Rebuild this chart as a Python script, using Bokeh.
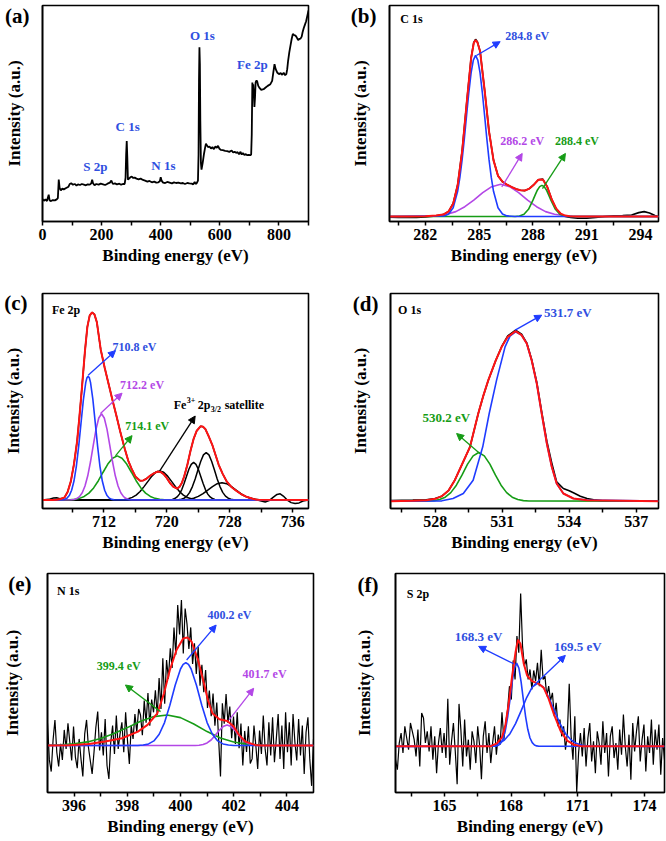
import numpy as np
from bokeh.plotting import figure
from bokeh.layouts import column, row
from bokeh.models import Range1d, FixedTicker, Label, Arrow, NormalHead
from bokeh.embed import file_html
from bokeh.resources import INLINE

# ---------------- (a) survey ----------------
a_energy = [0, 5, 10, 15, 21, 24, 29, 35, 42, 48, 52, 55, 58, 62, 67, 72, 80, 88, 92, 97, 103, 110, 115, 120,
            127, 133, 140, 147, 153, 160, 165, 168, 171, 176, 182, 190, 197, 205, 212, 220, 228, 233, 238, 245,
            252, 260, 266, 272, 278, 281, 283, 285, 287, 289, 293, 297, 302, 307, 312, 318, 325, 332, 340, 347,
            355, 362, 370, 378, 385, 392, 397, 400, 403, 408, 415, 422, 430, 438, 445, 452, 460, 468, 475, 482,
            490, 497, 505, 510, 515, 518, 522, 526, 528, 529.5, 531, 532.5, 534, 536, 538, 542, 546, 550, 553,
            556, 560, 565, 570, 575, 580, 585, 590, 594, 598, 603, 610, 618, 625, 632, 640, 645, 650, 655, 660,
            665, 670, 674, 678, 683, 688, 693, 698, 703, 706, 708, 710, 712, 713, 715, 717, 719, 721, 723, 726,
            730, 735, 740, 748, 755, 762, 771, 777, 781, 785, 789, 794, 800, 806, 811, 816, 821, 825, 828, 831,
            835, 839, 843, 847, 851, 856, 860, 865, 869, 873, 877, 880, 884, 888, 892, 895, 898, 900]
a_counts = [67, 62, 66, 61, 80, 63, 61, 64, 63, 66, 70, 125, 100, 93, 98, 96, 100, 104, 112, 114, 110, 112, 107, 111,
            109, 112, 110, 108, 111, 110, 114, 125, 114, 108, 112, 110, 113, 111, 109, 113, 116, 122, 112, 114,
            111, 113, 110, 112, 112, 130, 200, 240, 190, 125, 128, 132, 134, 130, 131, 128, 126, 128, 124, 122,
            119, 121, 117, 119, 116, 117, 120, 132, 122, 116, 115, 118, 116, 114, 117, 115, 116, 114, 115, 112,
            115, 114, 113, 111, 118, 112, 115, 122, 200, 420, 520, 470, 300, 175, 155, 175, 200, 220, 232,
            228, 222, 224, 218, 222, 216, 224, 220, 226, 218, 214, 213, 211, 210, 208, 212, 206, 208, 205, 207,
            201, 208, 200, 204, 199, 201, 198, 199, 198, 200, 260, 415, 395, 410, 380, 342, 370, 415, 420, 420,
            405, 398, 393, 395, 400, 405, 410, 420, 445, 470, 455, 445, 440, 443, 438, 444, 437, 440, 455, 480,
            505, 525, 545, 560, 557, 555, 550, 542, 545, 546, 552, 565, 578, 588, 598, 610, 622, 630]

# ---------------- (b) C 1s ----------------
b_raw_x = [280, 280.5, 281, 281.5, 282, 282.6, 283.0, 283.3, 283.55, 283.8, 284.05, 284.3, 284.55, 284.7, 284.8,
           284.9, 285.05, 285.3, 285.55, 285.8, 286.05, 286.3, 286.55, 286.8, 287.05, 287.3, 287.55, 287.8, 288.05,
           288.3, 288.55, 288.8, 289.05, 289.3, 289.55, 289.8, 290.1, 290.5, 291, 291.5, 292, 292.5, 293, 293.5,
           293.9, 294.2, 294.5, 294.8, 295]
b_raw_y = [-2, -3, -2, -3, -1, 2, 6, 16, 40, 96, 200, 344, 482, 530, 539, 532, 503, 386, 259, 172, 124, 106, 97,
           90, 84, 80, 79, 85, 97, 112, 114, 90, 52, 23, 7, 0, -3, -5, -5, -3, 0, 2, 3, 5, 12, 15, 11, 3, 0]
b_fit_x = [280, 281, 282, 282.6, 283.0, 283.3, 283.55, 283.8, 284.05, 284.3, 284.55, 284.7, 284.8, 284.9, 285.05,
           285.3, 285.55, 285.8, 286.05, 286.3, 286.55, 286.8, 287.05, 287.3, 287.55, 287.8, 288.05, 288.3, 288.55,
           288.8, 289.05, 289.3, 289.55, 289.8, 290.05, 290.5, 295]
b_fit_y = [0, 0, 1, 3, 6, 16, 39, 95, 198, 343, 481, 528, 537, 530, 503, 386, 259, 171, 124, 106, 97, 90, 84, 80,
           79, 85, 97, 112, 113, 90, 52, 24, 9, 3, 1, 0, 0]
b_blue_x = [280, 283.05, 283.3, 283.55, 283.8, 283.925, 284.05, 284.175, 284.3, 284.425, 284.55, 284.675, 284.8,
            284.925, 285.05, 285.175, 285.3, 285.425, 285.55, 285.675, 285.8, 286.05, 286.3, 286.55, 287, 295]
b_blue_y = [0, 2, 8, 27, 77, 119, 173, 238, 309, 378, 437, 476, 490, 476, 437, 378, 309, 238, 173, 119, 77, 27, 8,
            2, 0, 0]
b_purple_x = [280, 282.2, 282.7, 283.2, 283.7, 284.2, 284.7, 285.2, 285.7, 286.2, 286.7, 287.2, 287.7, 288.2,
              288.7, 289.2, 289.7, 290.2, 295]
b_purple_y = [0, 1, 3, 7, 15, 30, 50, 73, 91, 98, 91, 73, 50, 30, 15, 7, 3, 1, 0]
b_green_x = [280, 286.5, 287.0, 287.25, 287.5, 287.75, 288.0, 288.125, 288.25, 288.375, 288.5, 288.625, 288.75,
             288.875, 289.0, 289.25, 289.5, 289.75, 290.0, 290.5, 295]
b_green_y = [0, 0, 0.3, 1.7, 7, 22, 50, 66, 81, 91, 95, 91, 81, 66, 50, 22, 7, 1.7, 0.3, 0, 0]

# ---------------- (c) Fe 2p ----------------
c_fit_x = [704.2, 705.5, 706.0, 706.5, 707.0, 707.4, 707.8, 708.2, 708.6, 708.9, 709.2, 709.6, 709.9, 710.2, 710.5,
           710.8, 711.1, 711.6, 712.1, 712.6, 713.1, 713.6, 714.1, 714.65, 715.1, 715.5, 716.0, 716.6, 717.0, 717.4,
           717.8, 718.3, 718.8, 719.2, 719.6, 720.0, 720.4, 720.8, 721.3, 721.6, 721.9, 722.2, 722.6, 723.0, 723.4,
           723.8, 724.3, 724.6, 724.9, 725.3, 725.8, 726.2, 726.6, 727.1, 727.6, 728.2, 728.9, 729.5, 730.2, 731.0,
           731.5, 738.0]
c_fit_y = [0, 0, 1, 3, 8, 25, 57, 110, 180, 257, 340, 457, 530, 565, 574, 568, 545, 460, 405, 355, 305, 257, 207,
           157, 120, 97, 72, 59, 60, 65, 73, 81, 87, 86, 79, 67, 52, 41, 35, 40, 52, 72, 107, 150, 187, 212, 226,
           224, 217, 196, 167, 137, 107, 80, 57, 40, 27, 17, 9, 3, 1, 0]
c_raw_left_x = [704.2, 705.0, 705.6, 706.0, 706.4, 706.8]
c_raw_left_y = [0, 2, 6, 7, 4, 5]
c_raw_right_x = [731.0, 731.5, 732.0, 732.5, 733.0, 733.5, 734.0, 734.4, 734.8, 735.3, 735.8, 736.3, 736.8, 737.3, 738.0]
c_raw_right_y = [3, 0, -3, -6, -2, 8, 17, 19, 12, 0, -8, -11, -9, -3, 0]
c_blue_x = [704.2, 706.7, 707.0, 707.3, 707.6, 707.9, 708.2, 708.5, 708.8, 709.1, 709.4, 709.7, 709.85, 710.0,
            710.15, 710.3, 710.6, 710.9, 711.2, 711.5, 711.8, 712.1, 712.4, 712.7, 713.0, 713.3, 738.0]
c_blue_y = [0, 0.7, 2, 5.6, 13.6, 30, 58, 103, 165, 237, 308, 360, 374, 379, 374, 360, 308, 237, 165, 103, 58, 30,
            13.6, 5.6, 2, 0.7, 0]
c_purple_x = [704.2, 707.85, 708.2, 708.55, 708.9, 709.25, 709.6, 709.95, 710.3, 710.65, 711.0, 711.35, 711.7,
              712.05, 712.4, 712.75, 713.1, 713.45, 713.8, 714.15, 714.5, 714.85, 715.2, 715.55, 738.0]
c_purple_y = [0, 0.6, 1.7, 4.4, 10.3, 22, 43, 74, 117, 167, 216, 251, 264, 251, 216, 167, 117, 74, 43, 22, 10.3,
              4.4, 1.7, 0.6, 0]
c_green_x = [704.2, 707.7, 708.3, 708.9, 709.5, 710.1, 710.7, 711.3, 711.9, 712.5, 713.1, 713.7, 714.3, 714.9,
             715.5, 716.1, 716.7, 717.3, 717.9, 718.5, 719.1, 719.7, 738.0]
c_green_y = [0, 0.8, 2, 5, 11, 21, 37, 59, 85, 110, 128, 135, 128, 110, 85, 59, 37, 21, 11, 5, 2, 0.8, 0]
c_sat1_x = [704.2, 714.1, 714.6, 715.1, 715.6, 716.1, 716.6, 717.1, 717.6, 718.1, 718.6, 719.1, 719.6, 720.1,
            720.6, 721.1, 721.6, 722.1, 722.6, 723.1, 723.6, 724.1, 738.0]
c_sat1_y = [0, 0.7, 1.7, 3.9, 8, 15, 26, 41, 57, 73, 85, 89, 85, 73, 57, 41, 26, 15, 8, 3.9, 1.7, 0.7, 0]
c_sat2_x = [704.2, 720.4, 720.7, 721.0, 721.3, 721.6, 721.9, 722.2, 722.5, 722.8, 723.1, 723.4, 723.7, 724.0,
            724.3, 724.6, 724.9, 725.2, 725.5, 725.8, 726.1, 726.4, 738.0]
c_sat2_y = [0, 0.7, 1.9, 4.4, 9.5, 18, 32, 51, 73, 94, 109, 115, 109, 94, 73, 51, 32, 18, 9.5, 4.4, 1.9, 0.7, 0]
c_sat3_x = [704.2, 721.5, 721.85, 722.2, 722.55, 722.9, 723.25, 723.6, 723.95, 724.3, 724.65, 725.0, 725.35,
            725.7, 726.05, 726.4, 726.75, 727.1, 727.45, 727.8, 728.15, 728.5, 738.0]
c_sat3_y = [0, 0.9, 2.4, 5.6, 12, 23.5, 41, 64.5, 92, 118, 138, 145, 138, 118, 92, 64.5, 41, 23.5, 12, 5.6, 2.4,
            0.9, 0]
c_sat4_x = [704.2, 721.6, 722.2, 722.8, 723.4, 724.0, 724.6, 725.2, 725.8, 726.4, 727.0, 727.6, 728.2, 728.8,
            729.4, 730.0, 730.6, 731.2, 731.8, 732.4, 738.0]
c_sat4_y = [0, 0.3, 1, 2.5, 5.6, 11, 19.6, 30, 41, 50, 53, 50, 41, 30, 19.6, 11, 5.6, 2.5, 1, 0.3, 0]

# ---------------- (d) O 1s ----------------
d_raw_x = [526, 527, 527.6, 528.0, 528.3, 528.6, 528.88, 529.2, 529.56, 529.93, 530.15, 530.38, 530.7, 530.98,
           531.25, 531.6, 531.87, 532.1, 532.32, 532.55, 532.77, 533.0, 533.22, 533.44, 533.74, 534.0, 534.19,
           534.5, 534.8, 535.1, 535.5, 536.5, 538]
d_raw_y = [2, 3, 4, 8, 15, 32, 63, 110, 163, 263, 315, 363, 420, 464, 496, 513, 501, 475, 425, 356, 268, 180, 115,
           58, 38, 31, 25, 15, 8, 4, 1, 0, 0]
d_fit_x = [526, 527, 527.6, 528.0, 528.3, 528.6, 528.88, 529.2, 529.56, 529.93, 530.15, 530.38, 530.7, 530.98,
           531.25, 531.6, 531.87, 532.1, 532.32, 532.55, 532.77, 533.0, 533.22, 533.44, 533.74, 534.19, 534.79, 538]
d_fit_y = [0, 1, 3, 7, 15, 32, 63, 110, 163, 263, 315, 363, 420, 463, 493, 510, 498, 473, 423, 353, 263, 173, 103,
           53, 23, 8, 3, 0]
d_blue_x = [526, 528.3, 528.8, 529.26, 529.7, 530.13, 530.42, 530.75, 531.13, 531.35, 531.6, 531.87, 532.1,
            532.32, 532.55, 532.77, 533.0, 533.22, 533.44, 533.74, 534.19, 534.79, 538]
d_blue_y = [0, 1, 8, 23, 63, 163, 263, 363, 463, 495, 508, 498, 473, 423, 353, 263, 173, 103, 53, 23, 8, 3, 0]
d_green_x = [526, 527.7, 527.95, 528.2, 528.45, 528.7, 528.95, 529.2, 529.45, 529.7, 529.95, 530.2, 530.45,
             530.7, 530.95, 531.2, 531.45, 531.7, 531.95, 532.2, 538]
d_green_y = [0, 0.5, 1.7, 4.8, 11.9, 25.6, 48, 78, 111, 136, 146, 136, 111, 78, 48, 25.6, 11.9, 4.8, 1.7, 0.5, 0]

# ---------------- (e) N 1s ----------------
e_raw_y = [67, -43, -78, 17, 77, -20, -63, 5, -43, 47,
           -10, 67, 10, -45, 57, -35, -68, 20, -40, -93,
           35, 77, -5, -45, -85, -20, 55, 102, -15, 40,
           -30, 80, -60, -100, 10, 60, -25, 90, -10, 35,
           70, -20, 100, 15, -55, 60, 20, 95, 40, 110,
           92, 31, 135, 69, 158, 60, 138, 100, 166, 92,
           203, 110, 262, 126, 257, 201, 292, 233, 355, 273,
           422, 334, 437, 277, 412, 365, 290, 355, 245, 307,
           215, 297, 180, 243, 160, 227, 113, 165, 88, 156,
           60, 129, 20, -93, 127, 66, 155, 68, 117, 22,
           87, 5, 100, -8, 66, -60, 44, -19, 58, -54,
           -40, 60, 0, -70, 45, -25, 90, -10, -60, 70,
           -30, 85, -50, 20, 95, -40, 60, -70, 100, -20,
           70, -60, 95, 10, -45, 80, -30, 60, -85, 40,
           85, -40, -121, 20]
e_fit_x = [395, 395.8, 396.56, 397.17, 397.8, 398.4, 398.76, 399.13, 399.38, 399.6, 399.85, 400.1, 400.26, 400.42,
           400.66, 400.85, 401.03, 401.2, 401.46, 401.76, 402.0, 402.2, 402.44, 402.8, 403.05, 405]
e_fit_y = [0, 1, 5, 12, 22, 42, 62, 97, 157, 227, 287, 322, 325, 312, 257, 197, 137, 97, 79, 74, 57, 32, 12, 2, 0, 0]
e_blue_x = [395, 398.4, 398.6, 398.8, 399.0, 399.2, 399.4, 399.6, 399.8, 400.0, 400.1, 400.2, 400.3, 400.4, 400.6,
            400.8, 401.0, 401.2, 401.4, 401.6, 401.8, 402.0, 405]
e_blue_y = [0, 0.4, 1.5, 5, 14, 34, 69, 121, 181, 230, 244, 249, 244, 230, 181, 121, 69, 34, 14, 5, 1.5, 0.4, 0]
e_green_x = [395.0, 395.5, 396.0, 396.5, 397.0, 397.5, 398.0, 398.5, 399.0, 399.5, 400.0, 400.5, 401.0, 401.5,
             402.0, 402.5, 403.0, 403.5, 405]
e_green_y = [0.8, 2.2, 5.2, 11, 21, 36, 54, 73, 87, 92, 84, 65, 42, 23, 10.5, 4, 1.3, 0.3, 0]
e_purple_x = [395, 400.55, 400.7, 400.85, 401.0, 401.15, 401.3, 401.45, 401.6, 401.75, 401.9, 402.05, 402.2,
              402.35, 402.5, 402.65, 402.8, 402.95, 405]
e_purple_y = [0, 0.3, 1.1, 3.2, 8, 16.7, 30, 45, 57, 62, 57, 45, 30, 16.7, 8, 3.2, 1.1, 0.3, 0]

# ---------------- (f) S 2p ----------------
f_raw_y = [-40, -70, 10, 40, -20, 60, 25, -10, 70, 45,
           20, -30, 50, -60, 100, 85, 10, 45, -15, 60,
           -40, 30, -80, 10, 55, -20, 40, -35, 142, -55,
           15, 70, -15, -113, 127, 50, -60, 80, -30, 20,
           -70, 45, 15, -50, 60, 5, -98, 30, 75, -20,
           40, -50, 10, 60, -25, 35, 5, 102, 20, 70,
           110, 180, 140, 257, 200, 330, 280, 457, 300, 240,
           260, 200, 230, 170, 227, 195, 250, 180, 289, 200,
           210, 150, 180, 137, 160, 90, 130, 60, 80, 30,
           60, -10, 40, 187, 30, -40, 90, -138, -20, 40,
           -30, 55, -60, 25, 70, -45, 15, -80, 45, 10,
           -55, 75, -20, 40, -90, 30, 60, -35, 10, -70,
           50, -25, 95, 0, -60, 35, -100, 70, -15, 45,
           90, -45, 20, 65, -75, 30, -20, 80, -55, 50,
           -10, 65, -85, 25, -40]
f_fit_x = [162.8, 167.06, 167.36, 167.59, 167.74, 167.89, 168.04, 168.2, 168.31, 168.42, 168.57, 168.72, 168.94,
           169.24, 169.47, 169.69, 169.92, 170.22, 170.52, 170.82, 171.19, 174.9]
f_fit_y = [0, 0, 9, 27, 62, 127, 207, 282, 319, 307, 247, 212, 195, 187, 175, 142, 97, 47, 17, 5, 0, 0]
f_blue1_x = [162.8, 167.25, 167.35, 167.45, 167.55, 167.65, 167.75, 167.85, 167.95, 168.05, 168.15, 168.25, 168.35,
             168.45, 168.55, 168.65, 168.75, 168.85, 168.95, 169.05, 169.15, 169.25, 174.9]
f_blue1_y = [0, 0.4, 1.4, 4.2, 11, 25, 51, 90, 140, 193, 234, 249, 234, 193, 140, 90, 51, 25, 11, 4.2, 1.4, 0.4, 0]
f_blue2_x = [162.8, 166.95, 167.2, 167.45, 167.7, 167.95, 168.2, 168.45, 168.7, 168.95, 169.2, 169.45, 169.7,
             169.95, 170.2, 170.45, 170.7, 170.95, 171.2, 171.45, 174.9]
f_blue2_y = [0, 1.1, 3.2, 8.3, 19, 38, 68, 106, 146, 177, 189, 177, 146, 106, 68, 38, 19, 8.3, 3.2, 1.1, 0]

# panel tags
tags = ["(a)", "(b)", "(c)", "(d)", "(e)", "(f)"]

# ---------------- style ----------------
FONT = "Liberation Serif"
RED = "#ff1414"
BLUE = "#1f3cff"
PURPLE = "#b347e6"
GREEN = "#169c16"
TBLUE = "#2f4fe0"


def base_fig(xr, yr, majors, minors, w, h, bl, br, bt, bb, tag, tag_y, tag_stand, ylab_stand):
    p = figure(width=w, height=h, x_range=Range1d(*xr), y_range=Range1d(*yr),
               output_backend="svg", toolbar_location=None, tools="",
               min_border_left=bl, min_border_right=br, min_border_top=bt, min_border_bottom=bb)
    p.xgrid.visible = False
    p.ygrid.visible = False
    p.outline_line_color = "black"
    p.outline_line_width = 1.6
    p.outline_line_alpha = 1.0
    xa = p.xaxis[0]
    xa.ticker = FixedTicker(ticks=majors, minor_ticks=minors)
    xa.axis_label = "Binding energy (eV)"
    xa.axis_line_width = 1.6
    xa.major_tick_line_width = 1.5
    xa.minor_tick_line_width = 1.5
    xa.major_tick_in = 0
    xa.major_tick_out = 4
    xa.minor_tick_in = 0
    xa.minor_tick_out = 4
    xa.major_label_standoff = 3
    xa.major_label_text_font = FONT
    xa.major_label_text_font_style = "bold"
    xa.major_label_text_font_size = "16px"
    xa.major_label_text_color = "black"
    xa.axis_label_text_font = FONT
    xa.axis_label_text_font_style = "bold"
    xa.axis_label_text_font_size = "17px"
    xa.axis_label_text_color = "black"
    xa.axis_label_standoff = 3
    # y axis: no ticks; its single "tick label" is the panel tag, placed near the top
    ya = p.yaxis[0]
    ya.ticker = FixedTicker(ticks=[tag_y])
    ya.major_label_overrides = {tag_y: tag}
    ya.major_label_text_font = FONT
    ya.major_label_text_font_style = "bold"
    ya.major_label_text_font_size = "21px"
    ya.major_label_text_color = "black"
    ya.major_label_standoff = tag_stand
    ya.axis_label = "Intensity (a.u.)"
    ya.major_tick_in = 0
    ya.major_tick_out = 0
    ya.minor_tick_in = 0
    ya.minor_tick_out = 0
    ya.axis_line_width = 1.6
    ya.axis_label_text_font = FONT
    ya.axis_label_text_font_style = "bold"
    ya.axis_label_text_font_size = "17px"
    ya.axis_label_text_color = "black"
    ya.axis_label_standoff = ylab_stand
    return p


def txt(p, x, y, s, color="black", size="12px", align="center", xo=0, yo=0):
    p.add_layout(Label(x=x, y=y, text=s, text_font=FONT, text_font_style="bold", text_font_size=size,
                       text_color=color, text_align=align, text_baseline="middle", x_offset=xo, y_offset=yo))


def arrow(p, x0, y0, x1, y1, color):
    p.add_layout(Arrow(end=NormalHead(size=7, fill_color=color, line_color=color, line_width=1),
                       x_start=x0, y_start=y0, x_end=x1, y_end=y1, line_color=color, line_width=1.3))


# ---------------- (a) ----------------
pa = base_fig((0, 900), (0, 645), [0, 200, 400, 600, 800], [100, 300, 500, 700, 900],
              333, 280, 42, 25, 5, 59, tags[0], 614.0, 13, -22)
pa.line(a_energy, a_counts, line_color="black", line_width=1.8)
txt(pa, 541, 555, "O 1s", TBLUE, "13px")
txt(pa, 710, 470, "Fe 2p", TBLUE, "13px")
txt(pa, 288, 285, "C 1s", TBLUE, "13px")
txt(pa, 179, 165, "S 2p", TBLUE, "13px")
txt(pa, 409, 168, "N 1s", TBLUE, "13px")

# ---------------- (b) ----------------
pb = base_fig((280, 295), (-15, 642), [282, 285, 288, 291, 294], [280.5, 283.5, 286.5, 289.5, 292.5],
              333, 280, 56, 8, 2, 59, tags[1], 609.0, 13, -22)
pb.line(b_raw_x, b_raw_y, line_color="black", line_width=1.6)
pb.line(b_purple_x, b_purple_y, line_color=PURPLE, line_width=1.6)
pb.line(b_green_x, b_green_y, line_color=GREEN, line_width=1.6)
pb.line(b_blue_x, b_blue_y, line_color=BLUE, line_width=1.6)
pb.line(b_fit_x, b_fit_y, line_color=RED, line_width=2.0)
txt(pb, 280.6, 600, "C 1s", "black", "12px", "left")
txt(pb, 287.68, 548, "284.8 eV", TBLUE)
arrow(pb, 284.85, 490, 286.17, 532, BLUE)
txt(pb, 287.4, 230, "286.2 eV", PURPLE)
arrow(pb, 286.26, 90, 287.4, 192, PURPLE)
txt(pb, 290.45, 230, "288.4 eV", GREEN)
arrow(pb, 288.53, 85, 289.81, 192, GREEN)

# ---------------- (c) ----------------
pc = base_fig((704.2, 738), (-26, 632), [712, 720, 728, 736], [708, 716, 724, 732],
              333, 280, 42, 25, 8, 52, tags[2], 602.0, 15, -22)
c_raw_x = c_raw_left_x + c_fit_x[4:59] + c_raw_right_x
c_raw_y = c_raw_left_y + c_fit_y[4:59] + c_raw_right_y
pc.line(c_raw_x, c_raw_y, line_color="black", line_width=1.5)
for sx, sy in [(c_sat1_x, c_sat1_y), (c_sat2_x, c_sat2_y), (c_sat3_x, c_sat3_y), (c_sat4_x, c_sat4_y)]:
    pc.line(sx, sy, line_color="black", line_width=1.5)
pc.line(c_green_x, c_green_y, line_color=GREEN, line_width=1.6)
pc.line(c_purple_x, c_purple_y, line_color=PURPLE, line_width=1.6)
pc.line(c_blue_x, c_blue_y, line_color=BLUE, line_width=1.6)
pc.line(c_fit_x, c_fit_y, line_color=RED, line_width=2.0)
txt(pc, 705.4, 582, "Fe 2p", "black", "12px", "left")
txt(pc, 715.88, 467, "710.8 eV", TBLUE)
arrow(pc, 710.0, 382, 713.47, 457, BLUE)
txt(pc, 716.85, 352, "712.2 eV", PURPLE)
arrow(pc, 711.56, 265, 714.31, 327, PURPLE)
txt(pc, 717.5, 227, "714.1 eV", GREEN)
arrow(pc, 713.47, 135, 715.58, 197, GREEN)
sx0, sy0 = 720.87, 290
txt(pc, sx0, sy0, "Fe", "black", "12px", "left", 0, 0)
txt(pc, sx0, sy0, "3+", "black", "8px", "left", 13, 5)
txt(pc, sx0, sy0, "2p", "black", "12px", "left", 24, 0)
txt(pc, sx0, sy0, "3/2", "black", "8px", "left", 37, -4)
txt(pc, sx0, sy0, "satellite", "black", "12px", "left", 51, 0)
arrow(pc, 719.1, 89, 723.6, 257, "black")

# ---------------- (d) ----------------
pd_ = base_fig((526, 538), (-22, 623), [528, 531, 534, 537], [526.5, 529.5, 532.5, 535.5],
               333, 280, 57, 8, 13, 52, tags[3], 593.0, 12, -20)
pd_.line(d_raw_x, d_raw_y, line_color="black", line_width=1.6)
pd_.line(d_green_x, d_green_y, line_color=GREEN, line_width=1.6)
pd_.line(d_blue_x, d_blue_y, line_color=BLUE, line_width=1.6)
pd_.line(d_fit_x, d_fit_y, line_color=RED, line_width=2.0)
txt(pd_, 526.34, 573, "O 1s", "black", "12px", "left")
txt(pd_, 533.94, 566, "531.7 eV", TBLUE, "13px")
arrow(pd_, 531.58, 513, 532.77, 558, BLUE)
txt(pd_, 528.5, 251, "530.2 eV", GREEN, "13px")
arrow(pd_, 530.0, 143, 528.96, 203, GREEN)

# ---------------- (e) ----------------
pe = base_fig((395, 405), (-141, 517), [396, 398, 400, 402, 404], [397, 399, 401, 403],
              333, 281, 41, 20, 13, 48, tags[4], 484.0, 16, -17)
e_raw_x = np.linspace(395, 405, len(e_raw_y))
pe.line(e_raw_x, e_raw_y, line_color="black", line_width=1.2)
pe.line(e_green_x, e_green_y, line_color=GREEN, line_width=1.6)
pe.line(e_purple_x, e_purple_y, line_color=PURPLE, line_width=1.6)
pe.line(e_blue_x, e_blue_y, line_color=BLUE, line_width=1.6)
pe.line(e_fit_x, e_fit_y, line_color=RED, line_width=2.0)
txt(pe, 395.36, 465, "N 1s", "black", "12px", "left")
txt(pe, 401.84, 392, "400.2 eV", TBLUE)
arrow(pe, 400.23, 257, 401.34, 362, BLUE)
txt(pe, 397.68, 239, "399.4 eV", GREEN)
arrow(pe, 399.25, 102, 397.93, 182, GREEN)
txt(pe, 403.16, 215, "401.7 eV", PURPLE)
arrow(pe, 401.83, 77, 402.75, 172, PURPLE)

# ---------------- (f) ----------------
pf = base_fig((162.8, 174.9), (-138, 517), [165, 168, 171, 174], [163.5, 166.5, 169.5, 172.5],
              333, 281, 62, 2, 13, 49, tags[5], 484.0, 17, -19)
f_raw_x = np.linspace(162.8, 174.9, len(f_raw_y))
pf.line(f_raw_x, f_raw_y, line_color="black", line_width=1.2)
pf.line(f_blue2_x, f_blue2_y, line_color=BLUE, line_width=1.6)
pf.line(f_blue1_x, f_blue1_y, line_color=BLUE, line_width=1.6)
pf.line(f_fit_x, f_fit_y, line_color=RED, line_width=2.0)
txt(pf, 163.31, 457, "S 2p", "black", "12px", "left")
txt(pf, 166.54, 329, "168.3 eV", TBLUE, "13px")
arrow(pf, 168.12, 247, 166.54, 299, BLUE)
txt(pf, 171.0, 299, "169.5 eV", TBLUE, "13px")
arrow(pf, 169.02, 182, 170.44, 272, BLUE)

layout = column(row(pa, pb), row(pc, pd_), row(pe, pf))
open("out.html", "w").write(file_html(layout, INLINE))
